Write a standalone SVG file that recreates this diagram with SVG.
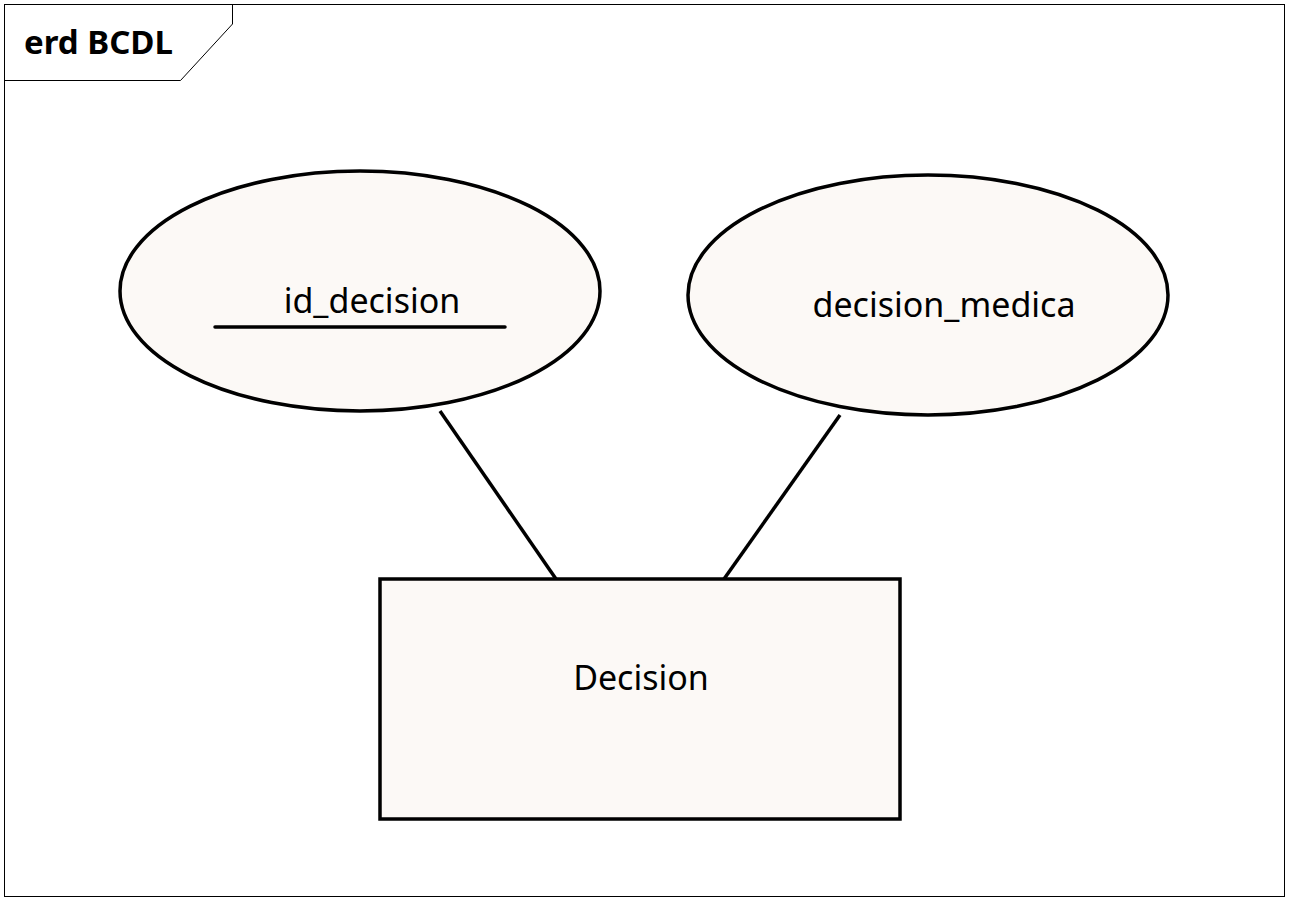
<svg xmlns="http://www.w3.org/2000/svg" width="1296" height="904" viewBox="0 0 1296 904">
<style>
.shape{fill:#fcf9f6;stroke:#000;stroke-width:3.5}
.lbl{font-family:"Noto Sans","Open Sans",sans-serif;font-size:34px;fill:#000;text-anchor:middle}
.conn{stroke:#000;stroke-width:3.5;fill:none}
</style>
<rect width="1296" height="904" fill="#fff"/>
<g id="frame">
<rect x="4.5" y="4.5" width="1280" height="892" fill="none" stroke="#000" stroke-width="1"/>
<path d="M4.5 80.5 H180.5 L232.5 24 V4.5" fill="none" stroke="#000" stroke-width="1"/>
<text x="24" y="54" font-family="Noto Sans,Open Sans,sans-serif" font-size="33" font-weight="bold">erd BCDL</text>
</g>
<g id="connectors">
<line class="conn" x1="440" y1="411" x2="556" y2="579"/>
<line class="conn" x1="840" y1="415" x2="724" y2="579"/>
</g>
<g id="id_decision">
<ellipse class="shape" cx="360" cy="291" rx="240" ry="120"/>
<text class="lbl" x="372" y="313">id_decision</text>
<line x1="215" y1="327" x2="505" y2="327" stroke="#000" stroke-width="3.5" stroke-linecap="round"/>
</g>
<g id="decision_medica">
<ellipse class="shape" cx="928" cy="295" rx="240" ry="120"/>
<text class="lbl" x="944" y="317">decision_medica</text>
</g>
<g id="Decision">
<rect class="shape" x="380" y="579" width="520" height="240"/>
<text class="lbl" x="641" y="690">Decision</text>
</g>
</svg>
